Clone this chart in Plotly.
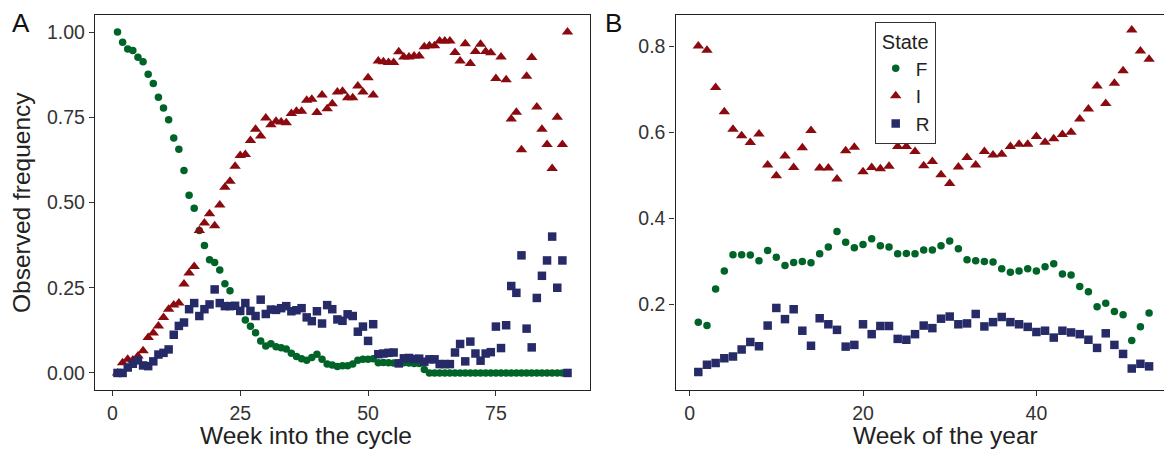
import plotly.graph_objects as go

# ---------------- data ----------------
weeks_cycle = list(range(1, 90))
F_cycle = [1.00, 0.970, 0.950, 0.946, 0.926, 0.913, 0.876, 0.849, 0.809, 0.777,
           0.743, 0.689, 0.656, 0.594, 0.521, 0.483, 0.418, 0.374, 0.332, 0.324,
           0.302, 0.262, 0.241, 0.197, 0.180, 0.155, 0.137, 0.118, 0.094, 0.079,
           0.086, 0.077, 0.074, 0.070, 0.058, 0.048, 0.042, 0.037, 0.045, 0.055,
           0.040, 0.026, 0.023, 0.019, 0.021, 0.021, 0.026, 0.037, 0.040, 0.040,
           0.042, 0.030, 0.031, 0.030, 0.029, 0.030, 0.030, 0.029, 0.028, 0.028,
           0.010, 0.0, 0.0, 0.0, 0.0, 0.0, 0.0, 0.0, 0.0, 0.0,
           0.0, 0.0, 0.0, 0.0, 0.0, 0.0, 0.0, 0.0, 0.0, 0.0,
           0.0, 0.0, 0.0, 0.0, 0.0, 0.0, 0.0, 0.0, 0.0]
I_cycle = [0.0, 0.030, 0.040, 0.038, 0.050, 0.065, 0.104, 0.117, 0.138, 0.163,
           0.187, 0.199, 0.205, 0.261, 0.293, 0.312, 0.418, 0.440, 0.467, 0.432,
           0.493, 0.545, 0.562, 0.606, 0.638, 0.641, 0.682, 0.715, 0.695, 0.748,
           0.728, 0.738, 0.736, 0.734, 0.761, 0.768, 0.768, 0.800, 0.803, 0.764,
           0.815, 0.775, 0.790, 0.824, 0.826, 0.807, 0.807, 0.842, 0.824, 0.866,
           0.815, 0.915, 0.913, 0.911, 0.911, 0.942, 0.927, 0.927, 0.930, 0.930,
           0.957, 0.960, 0.960, 0.974, 0.974, 0.974, 0.940, 0.915, 0.966, 0.908,
           0.943, 0.964, 0.943, 0.939, 0.864, 0.927, 0.860, 0.745, 0.765, 0.655,
           0.870, 0.925, 0.780, 0.715, 0.670, 0.600, 0.750, 0.670, 1.000]
R_cycle = [0.0, 0.0, 0.016, 0.027, 0.037, 0.022, 0.020, 0.034, 0.054, 0.059,
           0.069, 0.112, 0.138, 0.148, 0.187, 0.205, 0.167, 0.187, 0.201, 0.245,
           0.205, 0.196, 0.196, 0.197, 0.182, 0.205, 0.182, 0.167, 0.215, 0.173,
           0.186, 0.185, 0.190, 0.196, 0.181, 0.184, 0.190, 0.163, 0.152, 0.181,
           0.145, 0.199, 0.187, 0.157, 0.153, 0.172, 0.167, 0.121, 0.136, 0.094,
           0.143, 0.055, 0.057, 0.059, 0.060, 0.028, 0.043, 0.044, 0.041, 0.042,
           0.033, 0.040, 0.040, 0.026, 0.026, 0.026, 0.060, 0.085, 0.034, 0.092,
           0.057, 0.036, 0.057, 0.061, 0.136, 0.073, 0.140, 0.255, 0.235, 0.345,
           0.130, 0.075, 0.220, 0.285, 0.330, 0.400, 0.250, 0.330, 0.000]

weeks_year = list(range(1, 54))
F_year = [0.158, 0.150, 0.235, 0.277, 0.315, 0.315, 0.314, 0.301, 0.325, 0.309,
          0.290, 0.297, 0.299, 0.296, 0.317, 0.333, 0.369, 0.344, 0.331, 0.339,
          0.352, 0.336, 0.333, 0.317, 0.318, 0.317, 0.326, 0.326, 0.336, 0.347,
          0.329, 0.303, 0.301, 0.299, 0.298, 0.282, 0.274, 0.277, 0.282, 0.277,
          0.287, 0.294, 0.270, 0.268, 0.241, 0.229, 0.194, 0.202, 0.183, 0.175,
          0.115, 0.147, 0.179]
I_year = [0.801, 0.791, 0.704, 0.648, 0.607, 0.592, 0.576, 0.596, 0.524, 0.499,
          0.545, 0.518, 0.564, 0.604, 0.517, 0.517, 0.491, 0.557, 0.565, 0.508,
          0.518, 0.515, 0.521, 0.567, 0.567, 0.555, 0.522, 0.532, 0.501, 0.481,
          0.519, 0.541, 0.524, 0.555, 0.547, 0.549, 0.567, 0.572, 0.572, 0.590,
          0.577, 0.585, 0.595, 0.600, 0.631, 0.654, 0.708, 0.667, 0.714, 0.743,
          0.838, 0.789, 0.770]
R_year = [0.042, 0.059, 0.063, 0.074, 0.078, 0.094, 0.112, 0.102, 0.150, 0.191,
          0.165, 0.188, 0.138, 0.103, 0.167, 0.153, 0.140, 0.101, 0.105, 0.153,
          0.130, 0.149, 0.149, 0.119, 0.117, 0.130, 0.150, 0.144, 0.166, 0.171,
          0.153, 0.155, 0.177, 0.148, 0.158, 0.170, 0.158, 0.153, 0.147, 0.135,
          0.138, 0.122, 0.138, 0.134, 0.130, 0.117, 0.098, 0.132, 0.105, 0.084,
          0.050, 0.061, 0.055]

states = ["F", "I", "R"]
colors = {"F": "#006428", "I": "#8B0A10", "R": "#262B68"}
symbols = {"F": "circle", "I": "triangle-up", "R": "square"}
sizes = {"F": 7.5, "I": 10, "R": 8.5}

# ---------------- figure ----------------
W, H = 1164, 449
FONT = "Liberation Sans, Arial, Helvetica, sans-serif"
fig = go.Figure()

cycle = {"F": F_cycle, "I": I_cycle, "R": R_cycle}
year = {"F": F_year, "I": I_year, "R": R_year}

for s in states:
    fig.add_trace(go.Scatter(
        x=weeks_cycle, y=cycle[s], mode="markers", name=s, showlegend=False,
        marker=dict(color=colors[s], symbol=symbols[s], size=sizes[s], line=dict(width=0)),
        xaxis="x", yaxis="y"))
for s in states:
    fig.add_trace(go.Scatter(
        x=weeks_year, y=year[s], mode="markers", name=s, showlegend=True,
        marker=dict(color=colors[s], symbol=symbols[s], size=sizes[s], line=dict(width=0)),
        xaxis="x2", yaxis="y2"))

ydom = [1 - 390 / H, 1 - 15 / H]
axis_common = dict(showgrid=False, zeroline=False, showline=True, linecolor="#222",
                   linewidth=1.3, ticks="outside", ticklen=5, tickwidth=1.2,
                   tickcolor="#333", tickfont=dict(size=19.5, color="#333", family=FONT))


def label(text, x, y, size, angle=0, color="#222"):
    return dict(text=text, x=x / W, y=1 - y / H, xref="paper", yref="paper",
                xanchor="center", yanchor="middle", showarrow=False, textangle=angle,
                font=dict(size=size, color=color, family=FONT))


fig.update_layout(
    width=W, height=H, margin=dict(l=0, r=0, t=0, b=0),
    paper_bgcolor="white", plot_bgcolor="white",
    font=dict(family=FONT, color="#222"),
    xaxis=dict(domain=[95 / W, 590 / W], range=[-3.4, 93.4], tickvals=[0, 25, 50, 75],
               mirror=True, anchor="y", **axis_common),
    yaxis=dict(domain=ydom, range=[-0.05, 1.05], tickvals=[0, 0.25, 0.5, 0.75, 1.0],
               ticktext=["0.00", "0.25", "0.50", "0.75", "1.00"], mirror=True,
               anchor="x", **axis_common),
    xaxis2=dict(domain=[675.5 / W, 1.0], range=[-1.63, 54.72], tickvals=[0, 20, 40],
                mirror=True, anchor="y2", **axis_common),
    yaxis2=dict(domain=ydom, range=[0.0, 0.873], tickvals=[0.2, 0.4, 0.6, 0.8],
                ticktext=["0.2", "0.4", "0.6", "0.8"], mirror=False, anchor="x2",
                **axis_common),
    legend=dict(x=874.7 / W, y=1 - 22.3 / H, xanchor="left", yanchor="top",
                bordercolor="#333", borderwidth=1, bgcolor="white",
                font=dict(size=19, color="#222", family=FONT),
                title=dict(text="State", side="top center",
                           font=dict(size=20, color="#222", family=FONT)),
                tracegroupgap=0, itemwidth=30),
    annotations=[
        label("A", 21, 23, 26, color="#111"),
        label("B", 613, 23, 26, color="#111"),
        label("Observed frequency", 22, 203, 24.5, angle=-90),
        label("Week into the cycle", 306, 435, 24.5),
        label("Week of the year", 945, 435, 24.5),
    ],
)

fig.write_html("out.html")
